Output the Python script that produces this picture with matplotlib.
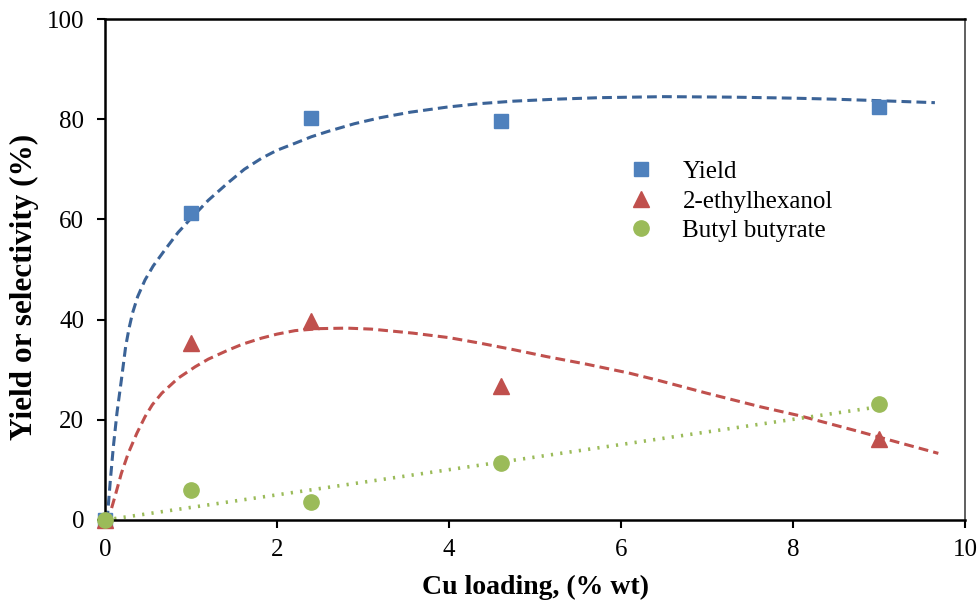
import matplotlib.pyplot as plt

plt.rcParams['font.family'] = ['Liberation Serif', 'DejaVu Serif']

# measured points
cu = [0, 1, 2.4, 4.6, 9]
yield_pct = [0, 61.3, 80.3, 79.6, 82.5]
ethylhexanol = [0, 35.3, 39.8, 26.7, 16.2]
butyl_butyrate = [0, 5.9, 3.6, 11.4, 23.1]

# trend curves
yield_fit_x = [0, 0.031, 0.06, 0.097, 0.14, 0.19, 0.24, 0.28, 0.32, 0.38, 0.465, 0.56,
               0.7, 0.85, 1.0, 1.2, 1.43, 1.62, 1.82, 2.0, 2.21, 2.4, 2.6, 2.9, 3.2,
               3.55, 3.97, 4.35, 4.75, 5.25, 5.76, 6.5, 7.31, 8.0, 8.47, 9.0, 9.65]
yield_fit_y = [0, 1.3, 7.5, 14.6, 21.5, 27.9, 34.6, 38.3, 41.3, 44.6, 47.9, 50.7,
               54.0, 57.4, 60.2, 63.8, 67.3, 70.0, 72.2, 73.8, 75.2, 76.5, 77.6, 79.1, 80.3,
               81.4, 82.4, 83.1, 83.6, 84.0, 84.3, 84.5, 84.4, 84.2, 84.0, 83.7, 83.3]
eth_fit_x = [0, 0.04, 0.116, 0.19, 0.27, 0.37, 0.465, 0.55, 0.66, 0.85, 1.05, 1.2,
             1.43, 1.6, 1.82, 2.0, 2.21, 2.5, 2.81, 3.1, 3.58, 4.0, 4.36, 4.75, 5.14,
             5.6, 6.1, 6.45, 7.0, 7.62, 8.08, 8.78, 9.2, 9.69]
eth_fit_y = [0, 0.2, 4.7, 9.3, 13.3, 17.3, 20.6, 23.0, 25.3, 28.3, 30.6, 32.1,
             33.9, 35.1, 36.3, 37.1, 37.8, 38.2, 38.3, 38.1, 37.3, 36.4, 35.3, 34.0, 32.6,
             31.1, 29.3, 27.8, 25.3, 22.6, 20.8, 17.6, 15.6, 13.3]
but_fit_x = [0, 9]
but_fit_y = [0, 22.6]

fig = plt.figure(figsize=(9.8, 6.01), dpi=100)
ax = fig.add_axes([105 / 980, 81 / 601, 860 / 980, 501 / 601])

ax.plot(yield_fit_x, yield_fit_y, '--', color='#3B6397', linewidth=2.2, dashes=(3.2, 1.7))
ax.plot(eth_fit_x, eth_fit_y, '--', color='#C0504D', linewidth=2.2, dashes=(3.2, 1.7))
ax.plot(but_fit_x, but_fit_y, ':', color='#9BBB59', linewidth=2.6, dashes=(0.6, 2.0))

ax.plot(cu, yield_pct, 's', color='#4F81BD', markersize=10.5, label='Yield',
        clip_on=False, zorder=3)
ax.plot(cu, ethylhexanol, '^', color='#C0504D', markersize=11, label='2-ethylhexanol',
        clip_on=False, zorder=3)
ax.plot(cu, butyl_butyrate, 'o', color='#9BBB59', markersize=11, label='Butyl butyrate',
        clip_on=False, zorder=3)

ax.set_xlim(0, 10)
ax.set_ylim(0, 100)
ax.set_xticks([0, 2, 4, 6, 8, 10])
ax.set_yticks([0, 20, 40, 60, 80, 100])
ax.tick_params(labelsize=18, length=6, width=1.5, direction='out')
ax.tick_params(axis='x', pad=8)
ax.tick_params(axis='y', pad=9)

for side in ['left', 'bottom', 'top']:
    ax.spines[side].set_linewidth(1.8)
ax.spines['right'].set_linewidth(1.2)
ax.spines['right'].set_color('#444444')

ax.set_xlabel('Cu loading, (% wt)', fontsize=20, fontweight='bold', labelpad=10)
ax.set_ylabel('Yield or selectivity (%)', fontsize=22.5, fontweight='bold')
ax.yaxis.set_label_coords(-0.077, 0.466)

ax.legend(loc='upper left', bbox_to_anchor=(0.568, 0.762), frameon=False, fontsize=18,
          handletextpad=0.66, labelspacing=0.28)

fig.savefig('out.png', dpi=100)
